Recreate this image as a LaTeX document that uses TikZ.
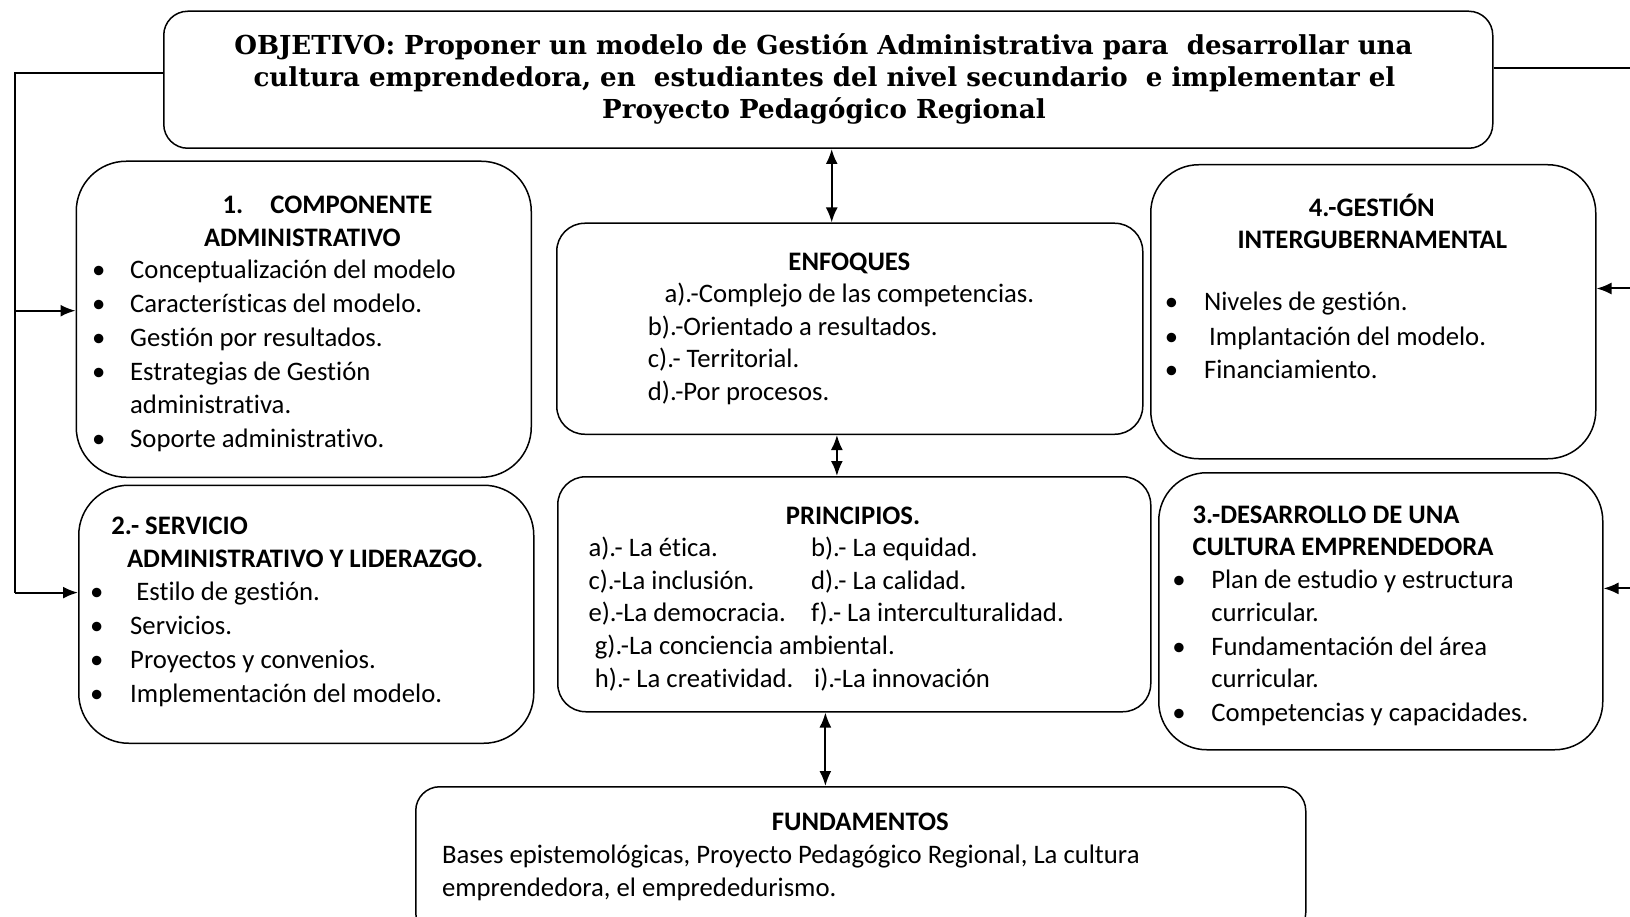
\documentclass[tikz,border=0pt]{standalone}
\usepackage{fontspec}
\setmainfont{Carlito}[Ligatures={CommonOff}]
\newfontfamily\titlefont{DejaVu Serif}
\usetikzlibrary{arrows.meta}
\tikzset{
  box/.style={draw, line width=1.5pt, rounded corners=#1, inner sep=0pt, anchor=north west},
  conn/.style={line width=2pt},
  tip/.style={-{Latex[length=15pt,width=12pt]}},
  dtip/.style={{Latex[length=15pt,width=12pt]}-{Latex[length=15pt,width=12pt]}},
  txt/.style={anchor=base west, inner sep=0pt, yshift=-2pt, font=\fontsize{26.7}{33.7}\selectfont},
  btxt/.style={txt, font=\fontsize{26.7}{33.7}\selectfont\bfseries},
  ctxt/.style={txt, anchor=base},
  cbtxt/.style={btxt, anchor=base},
  ttl/.style={anchor=base, inner sep=0pt, font=\titlefont\bfseries\fontsize{26.1}{32}\selectfont},
  bul/.style={anchor=base, inner sep=0pt, yshift=-2pt, font=\fontsize{26.7}{33.7}\selectfont}
}
\begin{document}
\begin{tikzpicture}[x=1pt,y=-1pt]
\useasboundingbox (0,0) rectangle (1630,917);

% boxes
\node[box=24pt, minimum width=1329pt, minimum height=137pt] (obj) at (163,10.5) {};
\node[box=50pt, minimum width=455pt, minimum height=316pt] (b1) at (75.5,160.5) {};
\node[box=50pt, minimum width=455pt, minimum height=258pt] (b2) at (78,484.5) {};
\node[box=28pt, minimum width=586pt, minimum height=211pt] (enf) at (556,222.5) {};
\node[box=28pt, minimum width=593pt, minimum height=235pt] (prin) at (557,476) {};
\node[box=48pt, minimum width=445pt, minimum height=294pt] (b4) at (1150,164) {};
\node[box=48pt, minimum width=444pt, minimum height=277pt] (b3) at (1158,472) {};
\node[box=24pt, minimum width=890pt, minimum height=150pt] (fund) at (415,786) {};

% title
\node[ttl] (t1) at (823.5,55) {OBJETIVO: Proponer un modelo de Gestión Administrativa para\ \ desarrollar una};
\node[ttl] (t2) at (824.5,87) {cultura emprendedora, en\ \ estudiantes del nivel secundario\ \ e implementar el};
\node[ttl] (t3) at (824,119) {Proyecto Pedagógico Regional};

% box 1
\node[btxt] (b1h1) at (222.5,212) {1.\hspace{27pt}COMPONENTE};
\node[btxt] (b1h2) at (203.8,244.5) {ADMINISTRATIVO};
\foreach \y/\n in {277/1,310.7/2,344.4/3,378.1/4,445.5/6}
  \node[bul] (b1d\n) at (98.8,\y) {\textbullet};
\node[txt] (b1i1) at (130,277) {Conceptualización del modelo};
\node[txt] (b1i2) at (130,310.7) {Características del modelo.};
\node[txt] (b1i3) at (130,344.4) {Gestión por resultados.};
\node[txt] (b1i4) at (130,378.1) {Estrategias de Gestión};
\node[txt] (b1i5) at (130,411.8) {administrativa.};
\node[txt] (b1i6) at (130,445.5) {Soporte administrativo.};

% box 2
\node[btxt] (b2h1) at (111.2,532.5) {2.- SERVICIO};
\node[btxt] (b2h2) at (126.8,565.7) {ADMINISTRATIVO Y LIDERAZGO.};
\foreach \y/\n in {598.5/1,632.3/2,666.3/3,700/4}
  \node[bul] (b2d\n) at (96.7,\y) {\textbullet};
\node[txt] (b2i1) at (136.2,598.5) {Estilo de gestión.};
\node[txt] (b2i2) at (130,632.3) {Servicios.};
\node[txt] (b2i3) at (130,666.3) {Proyectos y convenios.};
\node[txt] (b2i4) at (130,700) {Implementación del modelo.};

% enfoques
\node[cbtxt] (enfh) at (849.4,268.4) {ENFOQUES};
\node[txt] (enf1) at (664.3,300.7) {a).-Complejo de las competencias.};
\node[txt] (enf2) at (647.7,333) {b).-Orientado a resultados.};
\node[txt] (enf3) at (647.7,365.3) {c).- Territorial.};
\node[txt] (enf4) at (647.7,398.4) {d).-Por procesos.};

% principios
\node[cbtxt] (prinh) at (853,522) {PRINCIPIOS.};
\node[txt] (pa) at (588.4,554.3) {a).- La ética.};
\node[txt] (pb) at (810.9,554.3) {b).- La equidad.};
\node[txt] (pc) at (588.4,587.6) {c).-La inclusión.};
\node[txt] (pd) at (810.9,587.6) {d).- La calidad.};
\node[txt] (pe) at (588.4,619.8) {e).-La democracia.};
\node[txt] (pf) at (810.9,619.8) {f).- La interculturalidad.};
\node[txt] (pg) at (594.7,652) {g).-La conciencia ambiental.};
\node[txt] (ph) at (594.7,685.3) {h).- La creatividad.};
\node[txt] (pi) at (814,685.3) {i).-La innovación};

% box 4
\node[cbtxt] (b4h1) at (1371.8,214.3) {4.-GESTIÓN};
\node[cbtxt] (b4h2) at (1372.3,246.5) {INTERGUBERNAMENTAL};
\foreach \y/\n in {309/1,343.3/2,376.5/3}
  \node[bul] (b4d\n) at (1171.6,\y) {\textbullet};
\node[txt] (b4i1) at (1203.9,309) {Niveles de gestión.};
\node[txt] (b4i2) at (1209,343.3) {Implantación del modelo.};
\node[txt] (b4i3) at (1203.9,376.5) {Financiamiento.};

% box 3
\node[btxt] (b3h1) at (1192.4,521) {3.-DESARROLLO DE UNA};
\node[btxt] (b3h2) at (1192.4,553.3) {CULTURA EMPRENDEDORA};
\foreach \y/\n in {586.5/1,653/3,719.6/5}
  \node[bul] (b3d\n) at (1179,\y) {\textbullet};
\node[txt] (b3i1) at (1211.1,586.5) {Plan de estudio y estructura};
\node[txt] (b3i2) at (1211.1,619.8) {curricular.};
\node[txt] (b3i3) at (1211.1,653) {Fundamentación del área};
\node[txt] (b3i4) at (1211.1,685.3) {curricular.};
\node[txt] (b3i5) at (1211.1,719.6) {Competencias y capacidades.};

% fundamentos
\node[cbtxt] (fundh) at (860.3,828.7) {FUNDAMENTOS};
\node[txt] (fund1) at (441.8,861) {Bases epistemológicas, Proyecto Pedagógico Regional, La cultura};
\node[txt] (fund2) at (441.8,894.3) {emprendedora, el emprededurismo.};

% connectors
\coordinate (ax1) at (831.7,0);
\coordinate (ax2) at (836.9,0);
\coordinate (ax3) at (825.4,0);
\draw[conn,dtip] (obj.south -| ax1) -- (enf.north -| ax1);
\draw[conn,dtip] (enf.south -| ax2) -- (prin.north -| ax2);
\draw[conn,dtip] (prin.south -| ax3) -- (fund.north -| ax3);

\coordinate (L) at (14.5,73.3);
\coordinate (yl1) at (0,310.7);
\coordinate (yl2) at (0,592.6);
\draw[conn] (obj.west |- L) -- (L) -- (L |- yl2);
\draw[conn,tip] (L |- yl1) -- (b1.west |- yl1);
\draw[conn,tip] (L |- yl2) -- (b2.west |- yl2);

\coordinate (R) at (1640,68);
\coordinate (yr1) at (0,288.5);
\coordinate (yr2) at (0,588.4);
\draw[conn] (obj.east |- R) -- (R) -- (R |- yr2);
\draw[conn,tip] (R |- yr1) -- (b4.east |- yr1);
\draw[conn,tip] (R |- yr2) -- (b3.east |- yr2);
\end{tikzpicture}
\end{document}
